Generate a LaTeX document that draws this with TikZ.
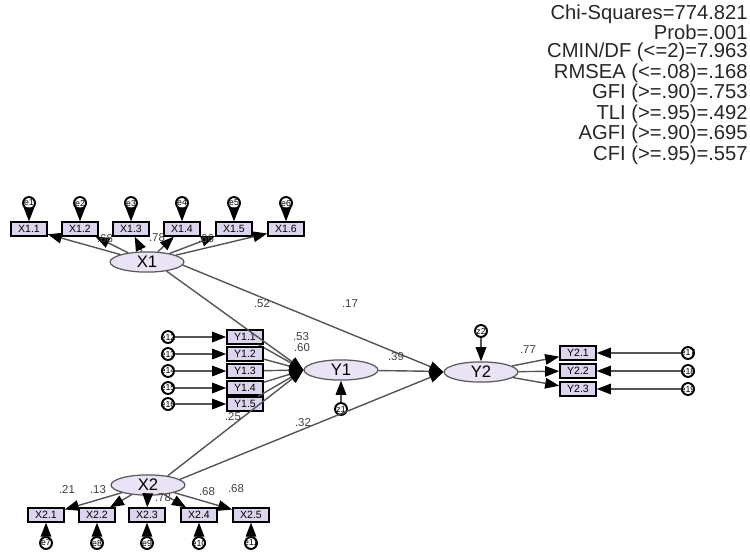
\documentclass[tikz,border=0pt]{standalone}
\usepackage{fontspec}
\setmainfont{Liberation Sans}
\usetikzlibrary{positioning, arrows.meta, shapes.geometric, calc}
\definecolor{latfill}{HTML}{E9E3F5}
\definecolor{obsfill}{HTML}{DDD5EE}
\definecolor{pathgray}{HTML}{555555}
\newcommand{\elab}[1]{\makebox[0pt]{#1}}
\tikzset{
  latent/.style={ellipse, draw=gray!70!black, line width=0.7pt, fill=latfill,
                 minimum width=42pt, minimum height=11.5pt, inner sep=0pt,
                 font=\fontsize{9.5}{10}\selectfont},
  obsbox/.style={rectangle, draw=black, line width=0.9pt, fill=obsfill,
                 minimum width=20.5pt, minimum height=7.8pt, inner sep=0pt,
                 font=\fontsize{6}{6}\selectfont},
  errc/.style={circle, draw=black, line width=1.1pt, fill=white,
               minimum size=6.8pt, inner sep=0pt, font=\fontsize{5}{5}\selectfont},
  semarrow/.style={draw=pathgray, line width=0.8pt,
                   -{Triangle[length=8pt, width=6pt, color=black]}},
  coef/.style={font=\fontsize{6.5}{7}\selectfont, text=black!75, inner sep=0.5pt},
  fitnote/.style={align=right, inner sep=0pt, text=black!85,
                  font=\fontsize{11.5}{10.15}\selectfont}
}
\begin{document}
\begin{tikzpicture}[x=0.02cm, y=-0.02cm]
  \useasboundingbox (0,0) rectangle (750,552);
  % fit indices, top right
  \node[fitnote, anchor=north east] (fit) at (748,4)
    {Chi-Squares=774.821\\ Prob=.001\\ CMIN/DF (<=2)=7.963\\
     RMSEA (<=.08)=.168\\ GFI (>=.90)=.753\\ TLI (>=.95)=.492\\
     AGFI (>=.90)=.695\\ CFI (>=.95)=.557};

  % latent variables
  \node[latent] (X1) at (147,262) {X1};
  \node[latent] (X2) at (148,485) {X2};
  \node[latent] (Y1) at (341,370) {Y1};
  \node[latent] (Y2) at (481,372) {Y2};

  % X1 -- six indicators, errors e1-e6 on top
  \foreach \i/\x in {1/29, 2/80, 3/131, 4/182, 5/234, 6/286} {
    \node[obsbox] (x1\i) at (\x,229) {X1.\i};
    \node[errc] (e\i) at (\x,203) {\elab{e\i}};
    \draw[semarrow] (e\i) -- (x1\i);
    \draw[semarrow] (X1) -- (x1\i);
  }
  \node[coef] (lx12) at (105,239) {.68};
  \node[coef] (lx13) at (157,238) {.78};
  \node[coef] (lx14) at (206,239) {.66};

  % X2 -- five indicators, errors e7-e11 below
  \foreach \i/\x/\e in {1/46/7, 2/97/8, 3/147/9, 4/199/10, 5/251/11} {
    \node[obsbox] (x2\i) at (\x,515) {X2.\i};
    \node[errc] (e\e) at (\x,543) {\elab{e\e}};
    \draw[semarrow] (e\e) -- (x2\i);
    \draw[semarrow] (X2) -- (x2\i);
  }
  \node[coef] (lx21) at (67,489) {.21};
  \node[coef] (lx22) at (98,490) {.13};
  \node[coef] (lx23) at (163,498) {.78};
  \node[coef] (lx24) at (207,492) {.68};
  \node[coef] (lx25) at (236,489) {.68};

  % Y1 -- five indicators, errors e12-e16 on the left
  \foreach \i/\y/\e in {1/337/12, 2/354/13, 3/371/14, 4/388/15, 5/404/16} {
    \node[obsbox] (y1\i) at (245,\y) {Y1.\i};
    \node[errc] (e\e) at (168,\y) {\elab{e\e}};
    \draw[semarrow] (e\e) -- (y1\i);
    \draw[semarrow] (y1\i) -- (Y1.west);
  }
  \node[coef] (ly11) at (301,337) {.53};
  \node[coef] (ly12) at (302,348) {.60};
  \node[errc] (z1) at (341,409) {\elab{z1}};
  \draw[semarrow] (z1) -- (Y1);

  % Y2 -- three indicators, errors e17-e19 on the right
  \foreach \i/\y/\e in {1/353/17, 2/371/18, 3/389/19} {
    \node[obsbox] (y2\i) at (578,\y) {Y2.\i};
    \node[errc] (e\e) at (688,\y) {\elab{e\e}};
    \draw[semarrow] (e\e) -- (y2\i);
    \draw[semarrow] (Y2) -- (y2\i);
  }
  \node[coef] (ly21) at (528,350) {.77};
  \node[errc] (z2) at (481,331) {\elab{z2}};
  \draw[semarrow] (z2) -- (Y2);

  % structural paths
  \draw[semarrow] (X1.-25) -- (Y1.west);
  \draw[semarrow] (X1.-5) -- (Y2.west);
  \draw[semarrow] (Y1) -- (Y2);
  \draw[semarrow] (X2.25) -- (Y1.west);
  \draw[semarrow] (X2.10) -- (Y2.west);
  \node[coef] (b11) at (262,304) {.52};
  \node[coef] (b12) at (350,304) {.17};
  \node[coef] (b22) at (396,357) {.39};
  \node[coef] (b21) at (233,417) {.25};
  \node[coef] (b23) at (303,423) {.32};
\end{tikzpicture}
\end{document}
